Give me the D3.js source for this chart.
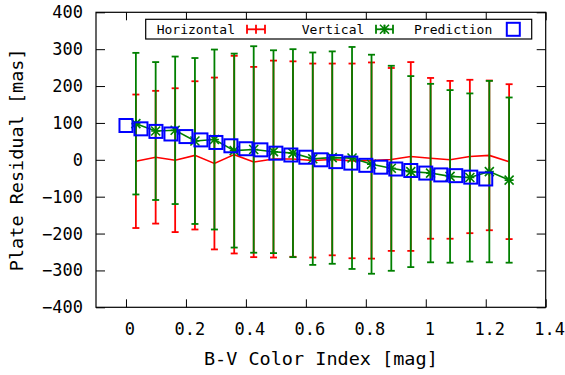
<!DOCTYPE html>
<html>
<head>
<meta charset="utf-8">
<script src="https://cdn.jsdelivr.net/npm/d3@7"></script>
<style>
  body { margin: 0; background: #fff; }
  text { font-family: "DejaVu Sans Mono", monospace; fill: #000; }
</style>
</head>
<body>
<div id="chart"></div>
<script>
// binned data (B-V color index)
const binX = [0.033, 0.099, 0.164, 0.230, 0.295, 0.361, 0.426, 0.492, 0.557, 0.623,
              0.688, 0.754, 0.819, 0.885, 0.950, 1.016, 1.081, 1.147, 1.212, 1.278];

// Horizontal residual: mean and error
const horizMean = [-4, 7, -1, 12, -10, 14, -6, 2, 2, -2, 1, -3, -2, 1, 9, 4, 0, 9, 12, -5];
const horizErr  = [181, 180, 195, 201, 233, 268, 258, 267, 265, 263, 260, 264, 266, 248, 256, 218, 214, 208, 203, 210];

// Vertical residual: mean and error
const vertMean = [98, 78, 80, 51, 55, 25, 28, 22, 18, 3, 6, 5, -12, -23, -32, -36, -45, -48, -32, -55];
const vertErr  = [192, 187, 200, 225, 244, 263, 280, 275, 282, 288, 288, 301, 297, 278, 259, 242, 234, 228, 246, 224];

// Prediction
const predX = [0, 0.05, 0.1, 0.15, 0.2, 0.25, 0.3, 0.35, 0.4, 0.45, 0.5, 0.55, 0.6,
               0.65, 0.7, 0.75, 0.8, 0.85, 0.9, 0.95, 1.0, 1.05, 1.1, 1.15, 1.2];
const predY = [93, 84, 77, 70, 63, 54, 47, 38, 30, 27, 18, 13, 7,
               0, -5, -9, -15, -20, -25, -29, -36, -41, -43, -47, -52];

const xTicks = [0, 0.2, 0.4, 0.6, 0.8, 1, 1.2, 1.4];
const yTicks = [-400, -300, -200, -100, 0, 100, 200, 300, 400];

const width = 565, height = 375;
const plotLeft = 96, plotRight = 545.7, plotTop = 12.3, plotBottom = 307.3;

const svg = d3.select("#chart")
    .append("svg")
    .attr("width", width)
    .attr("height", height);

const x = d3.scaleLinear().domain([-0.1, 1.4]).range([plotLeft, plotRight]);
const y = d3.scaleLinear().domain([-400, 400]).range([plotBottom, plotTop]);

// axes (ticks point inwards, mirrored on top/right)
const xAxis = svg.append("g")
    .attr("transform", `translate(0,${plotBottom})`)
    .call(d3.axisBottom(x).tickValues(xTicks).tickFormat(d3.format("~g"))
        .tickSize(-8).tickSizeOuter(0).tickPadding(16));
const yAxis = svg.append("g")
    .attr("transform", `translate(${plotLeft},0)`)
    .call(d3.axisLeft(y).tickValues(yTicks).tickSize(-9).tickSizeOuter(0).tickPadding(13));
const xTop = svg.append("g")
    .attr("transform", `translate(0,${plotTop})`)
    .call(d3.axisTop(x).tickValues(xTicks).tickFormat("").tickSize(-8).tickSizeOuter(0));
const yRight = svg.append("g")
    .attr("transform", `translate(${plotRight},0)`)
    .call(d3.axisRight(y).tickValues(yTicks).tickFormat("").tickSize(-9).tickSizeOuter(0));

[xAxis, yAxis, xTop, yRight].forEach(g => {
    g.select(".domain").remove();
    g.selectAll("line").attr("stroke", "#000");
    g.selectAll("text").style("font-size", "17px").style("font-family", "DejaVu Sans Mono");
});
// x labels sit slightly right of their ticks in the original
xAxis.selectAll("text").attr("x", 3.5);

svg.append("rect")
    .attr("x", plotLeft).attr("y", plotTop)
    .attr("width", plotRight - plotLeft).attr("height", plotBottom - plotTop)
    .attr("fill", "none").attr("stroke", "#000").attr("stroke-width", 1.2);

// axis titles
svg.append("text")
    .attr("x", (plotLeft + plotRight) / 2)
    .attr("y", 365)
    .attr("text-anchor", "middle")
    .style("font-size", "18.5px")
    .text("B-V Color Index [mag]");

svg.append("text")
    .attr("transform", "rotate(-90)")
    .attr("x", -(plotTop + plotBottom) / 2)
    .attr("y", 23)
    .attr("text-anchor", "middle")
    .style("font-size", "18.5px")
    .text("Plate Residual [mas]");

// error-line series
function drawSeries(mean, err, color, marker) {
    const pts = binX.map((d, i) => ({ x: d, m: mean[i], e: err[i] }));
    const g = svg.append("g");
    g.append("path")
        .datum(pts)
        .attr("fill", "none")
        .attr("stroke", color)
        .attr("stroke-width", 1.6)
        .attr("d", d3.line().x(d => x(d.x)).y(d => y(d.m)));
    pts.forEach(p => {
        const px = x(p.x), y1 = y(p.m + p.e), y2 = y(p.m - p.e);
        g.append("line").attr("x1", px).attr("x2", px).attr("y1", y1).attr("y2", y2)
            .attr("stroke", color).attr("stroke-width", 1.8);
        [y1, y2].forEach(yy => {
            g.append("line").attr("x1", px - 3.5).attr("x2", px + 3.5).attr("y1", yy).attr("y2", yy)
                .attr("stroke", color).attr("stroke-width", 1.8);
        });
        if (marker) drawStar(g, px, y(p.m), color);
    });
}

function drawStar(g, cx, cy, color) {
    const s = 4.5;
    g.append("path")
        .attr("d", `M${cx - s},${cy}H${cx + s}M${cx},${cy - s}V${cy + s}` +
                   `M${cx - s},${cy - s}L${cx + s},${cy + s}M${cx - s},${cy + s}L${cx + s},${cy - s}`)
        .attr("stroke", color).attr("stroke-width", 1.6).attr("fill", "none");
}

drawSeries(horizMean, horizErr, "#ff0000", false);
drawSeries(vertMean, vertErr, "#008000", true);

// prediction squares
svg.append("g").selectAll("rect")
    .data(predX.map((d, i) => ({ x: d, y: predY[i] })))
    .enter().append("rect")
    .attr("x", d => x(d.x) - 6.5)
    .attr("y", d => y(d.y) - 6.5)
    .attr("width", 13)
    .attr("height", 13)
    .attr("fill", "none")
    .attr("stroke", "#0000ff")
    .attr("stroke-width", 2);

// legend
const legend = svg.append("g");
legend.append("rect")
    .attr("x", 145.7).attr("y", 19.3)
    .attr("width", 386).attr("height", 19.7)
    .attr("fill", "#fff").attr("stroke", "#000").attr("stroke-width", 1.2);

function legendSample(x0, x1, color, marker) {
    const cy = 29.3, mid = (x0 + x1) / 2;
    legend.append("line").attr("x1", x0).attr("x2", x1).attr("y1", cy).attr("y2", cy)
        .attr("stroke", color).attr("stroke-width", 1.8);
    [x0, mid, x1].forEach(px => {
        legend.append("line").attr("x1", px).attr("x2", px).attr("y1", cy - 4.5).attr("y2", cy + 4.5)
            .attr("stroke", color).attr("stroke-width", 1.8);
    });
    if (marker) drawStar(legend, mid, cy, color);
}

const legendItems = [
    { label: "Horizontal", tx: 156.7 },
    { label: "Vertical", tx: 301.7 },
    { label: "Prediction", tx: 414 }
];
legendItems.forEach(d => {
    legend.append("text")
        .attr("x", d.tx).attr("y", 34.3)
        .style("font-size", "13px")
        .text(d.label);
});
legendSample(247, 265, "#ff0000", false);
legendSample(376, 393, "#008000", true);
legend.append("rect")
    .attr("x", 506.8).attr("y", 22.8)
    .attr("width", 13).attr("height", 13)
    .attr("fill", "none").attr("stroke", "#0000ff").attr("stroke-width", 2);
</script>
</body>
</html>
